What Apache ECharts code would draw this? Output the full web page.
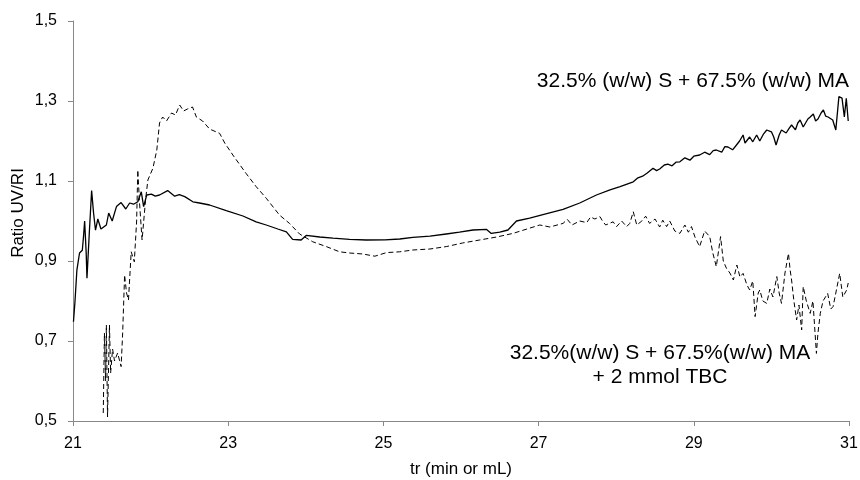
<!DOCTYPE html>
<html><head><meta charset="utf-8">
<script src="https://cdn.jsdelivr.net/npm/echarts@6/dist/echarts.min.js"></script>
<style>html,body{margin:0;padding:0;background:#fff}#c{width:860px;height:480px}</style>
</head><body><div id="c"></div>
<script>
const xTicks = [21, 23, 25, 27, 29, 31];
const yTicks = [0.5, 0.7, 0.9, 1.1, 1.3, 1.5];
const xTitle = 'tr (min or mL)';
const yTitle = 'Ratio UV/RI';
const label1 = '32.5% (w/w) S + 67.5% (w/w) MA';
const label2a = '32.5%(w/w) S + 67.5%(w/w) MA';
const label2b = '+ 2 mmol TBC';

const solidSeries = [
[21.006,0.748],[21.026,0.80],[21.05,0.877],[21.084,0.92],[21.12,0.927],[21.135,0.96],[21.15,1.0],[21.17,0.92],[21.18,0.857],[21.21,0.97],[21.24,1.076],[21.265,1.02],[21.29,0.977],[21.32,1.005],[21.36,0.98],[21.43,0.99],[21.46,1.02],[21.505,1.0],[21.56,1.036],[21.62,1.046],[21.68,1.03],[21.73,1.045],[21.78,1.042],[21.835,1.048],[21.88,1.073],[21.91,1.036],[21.95,1.065],[22.01,1.067],[22.06,1.062],[22.115,1.065],[22.22,1.076],[22.31,1.062],[22.37,1.066],[22.44,1.061],[22.545,1.048],[22.63,1.045],[22.76,1.04],[22.975,1.026],[23.19,1.0125],[23.36,0.998],[23.49,0.99],[23.64,0.98],[23.75,0.973],[23.83,0.954],[23.94,0.9525],[24.005,0.964],[24.18,0.96],[24.35,0.957],[24.565,0.954],[24.78,0.9525],[25.02,0.953],[25.21,0.955],[25.38,0.959],[25.6,0.962],[25.81,0.9675],[25.98,0.972],[26.155,0.9775],[26.33,0.979],[26.39,0.969],[26.5,0.972],[26.605,0.9775],[26.715,1.0],[26.885,1.007],[27.08,1.017],[27.315,1.029],[27.53,1.045],[27.745,1.065],[27.92,1.078],[28.05,1.086],[28.22,1.098],[28.28,1.108],[28.34,1.112],[28.4,1.12],[28.475,1.132],[28.52,1.126],[28.56,1.13],[28.62,1.14],[28.665,1.142],[28.72,1.138],[28.77,1.147],[28.82,1.148],[28.885,1.158],[28.95,1.152],[29.0,1.162],[29.075,1.165],[29.14,1.172],[29.205,1.166],[29.25,1.176],[29.29,1.1775],[29.36,1.172],[29.4,1.186],[29.44,1.185],[29.5,1.178],[29.55,1.19],[29.59,1.2],[29.635,1.215],[29.66,1.195],[29.685,1.2],[29.72,1.21],[29.76,1.198],[29.81,1.215],[29.85,1.2],[29.9,1.218],[29.94,1.2275],[30.0,1.223],[30.03,1.21],[30.06,1.19],[30.1,1.215],[30.13,1.2275],[30.19,1.22],[30.23,1.232],[30.26,1.24],[30.31,1.228],[30.34,1.245],[30.37,1.2525],[30.41,1.235],[30.435,1.24],[30.47,1.255],[30.5,1.26],[30.54,1.2675],[30.57,1.25],[30.6,1.255],[30.64,1.27],[30.67,1.2775],[30.7,1.262],[30.73,1.26],[30.79,1.2525],[30.83,1.2275],[30.87,1.311],[30.91,1.307],[30.94,1.26],[30.965,1.307],[30.99,1.25]
];

const dashedSeries = [
[21.39,0.52],[21.405,0.72],[21.42,0.60],[21.43,0.74],[21.445,0.51],[21.47,0.74],[21.485,0.62],[21.51,0.68],[21.535,0.65],[21.575,0.67],[21.62,0.636],[21.64,0.72],[21.665,0.865],[21.69,0.82],[21.715,0.8025],[21.75,0.923],[21.79,0.898],[21.82,1.0],[21.835,1.1275],[21.855,1.0525],[21.89,0.9525],[21.935,1.0525],[21.965,1.1025],[22.03,1.132],[22.08,1.1775],[22.115,1.245],[22.155,1.26],[22.205,1.25],[22.27,1.27],[22.32,1.265],[22.375,1.29],[22.425,1.275],[22.475,1.28],[22.54,1.285],[22.59,1.26],[22.67,1.25],[22.76,1.23],[22.89,1.219],[22.955,1.195],[23.06,1.165],[23.23,1.119],[23.36,1.086],[23.49,1.057],[23.66,1.015],[23.79,0.994],[23.92,0.9675],[24.09,0.948],[24.265,0.936],[24.435,0.923],[24.565,0.92],[24.735,0.9175],[24.89,0.912],[25.04,0.921],[25.21,0.923],[25.38,0.9275],[25.6,0.93],[25.81,0.936],[26.02,0.945],[26.24,0.9525],[26.46,0.96],[26.67,0.969],[26.85,0.98],[27.015,0.99],[27.145,0.985],[27.315,0.994],[27.37,1.004],[27.43,0.99],[27.53,1.0],[27.62,0.996],[27.67,1.01],[27.725,1.005],[27.79,1.011],[27.83,0.998],[27.865,0.99],[27.96,0.998],[28.005,0.986],[28.07,1.0],[28.135,0.986],[28.175,0.994],[28.22,1.023],[28.265,0.99],[28.33,1.0],[28.38,1.012],[28.43,0.994],[28.5,1.005],[28.56,0.985],[28.6,1.002],[28.65,0.986],[28.69,1.0],[28.755,0.975],[28.82,0.969],[28.885,0.99],[28.93,0.972],[28.97,0.986],[29.015,0.96],[29.075,0.936],[29.14,0.975],[29.205,0.961],[29.245,0.92],[29.29,0.886],[29.345,0.961],[29.38,0.9],[29.42,0.882],[29.465,0.87],[29.51,0.8525],[29.555,0.89],[29.595,0.86],[29.635,0.869],[29.685,0.84],[29.72,0.8275],[29.76,0.85],[29.79,0.761],[29.83,0.82],[29.85,0.8275],[29.89,0.8],[29.94,0.794],[29.98,0.83],[30.02,0.81],[30.07,0.861],[30.1,0.82],[30.13,0.794],[30.175,0.87],[30.22,0.919],[30.24,0.88],[30.26,0.8525],[30.29,0.8],[30.325,0.7525],[30.355,0.79],[30.39,0.7275],[30.41,0.836],[30.45,0.8],[30.5,0.769],[30.535,0.8],[30.58,0.669],[30.6,0.72],[30.63,0.769],[30.665,0.8],[30.725,0.819],[30.765,0.78],[30.795,0.786],[30.83,0.82],[30.88,0.869],[30.92,0.81],[30.97,0.8275],[30.99,0.845]
];

const FONT = '"Liberation Sans", Arial, sans-serif';
const chart = echarts.init(document.getElementById('c'), null, {renderer: 'canvas'});
chart.setOption({
  animation: false,
  backgroundColor: '#ffffff',
  grid: {left: 73, right: 11, top: 21, bottom: 59, containLabel: false, outerBoundsMode: 'none'},
  xAxis: {
    type: 'value', min: xTicks[0], max: xTicks[xTicks.length - 1],
    name: xTitle, nameLocation: 'middle', nameGap: 40,
    nameTextStyle: {color: '#000', fontFamily: FONT, fontSize: 17},
    axisLine: {show: true, lineStyle: {color: '#888888', width: 1}},
    axisTick: {show: true, length: 5, lineStyle: {color: '#888888'}, customValues: xTicks},
    axisLabel: {customValues: xTicks, color: '#000', fontFamily: FONT, fontSize: 16, margin: 15},
    splitLine: {show: false}
  },
  yAxis: {
    type: 'value', min: yTicks[0], max: yTicks[yTicks.length - 1],
    axisLine: {show: true, lineStyle: {color: '#888888', width: 1}},
    axisTick: {show: true, length: 5, lineStyle: {color: '#888888'}, customValues: yTicks},
    axisLabel: {customValues: yTicks, color: '#000', fontFamily: FONT, fontSize: 16, margin: 16,
      formatter: v => v.toFixed(1).replace('.', ',')},
    splitLine: {show: false}
  },
  graphic: [
    {type: 'text', x: 18, y: 213, rotation: Math.PI / 2,
     style: {text: yTitle, x: 0, y: 0, align: 'center', verticalAlign: 'middle', font: '17px ' + FONT, fill: '#000'}},
    {type: 'text', style: {text: label1, x: 849, y: 81, align: 'right', verticalAlign: 'middle', font: '21px ' + FONT, fill: '#000'}},
    {type: 'text', style: {text: label2a, x: 660, y: 353, align: 'center', verticalAlign: 'middle', font: '21px ' + FONT, fill: '#000'}},
    {type: 'text', style: {text: label2b, x: 660, y: 377, align: 'center', verticalAlign: 'middle', font: '21px ' + FONT, fill: '#000'}}
  ],
  series: [
    {type: 'line', data: solidSeries, showSymbol: false, symbol: 'none', smooth: false,
     lineStyle: {color: '#000', width: 1.3}},
    {type: 'line', data: dashedSeries, showSymbol: false, symbol: 'none', smooth: false,
     lineStyle: {color: '#000', width: 1, type: [5, 3]}}
  ]
});
</script></body></html>
